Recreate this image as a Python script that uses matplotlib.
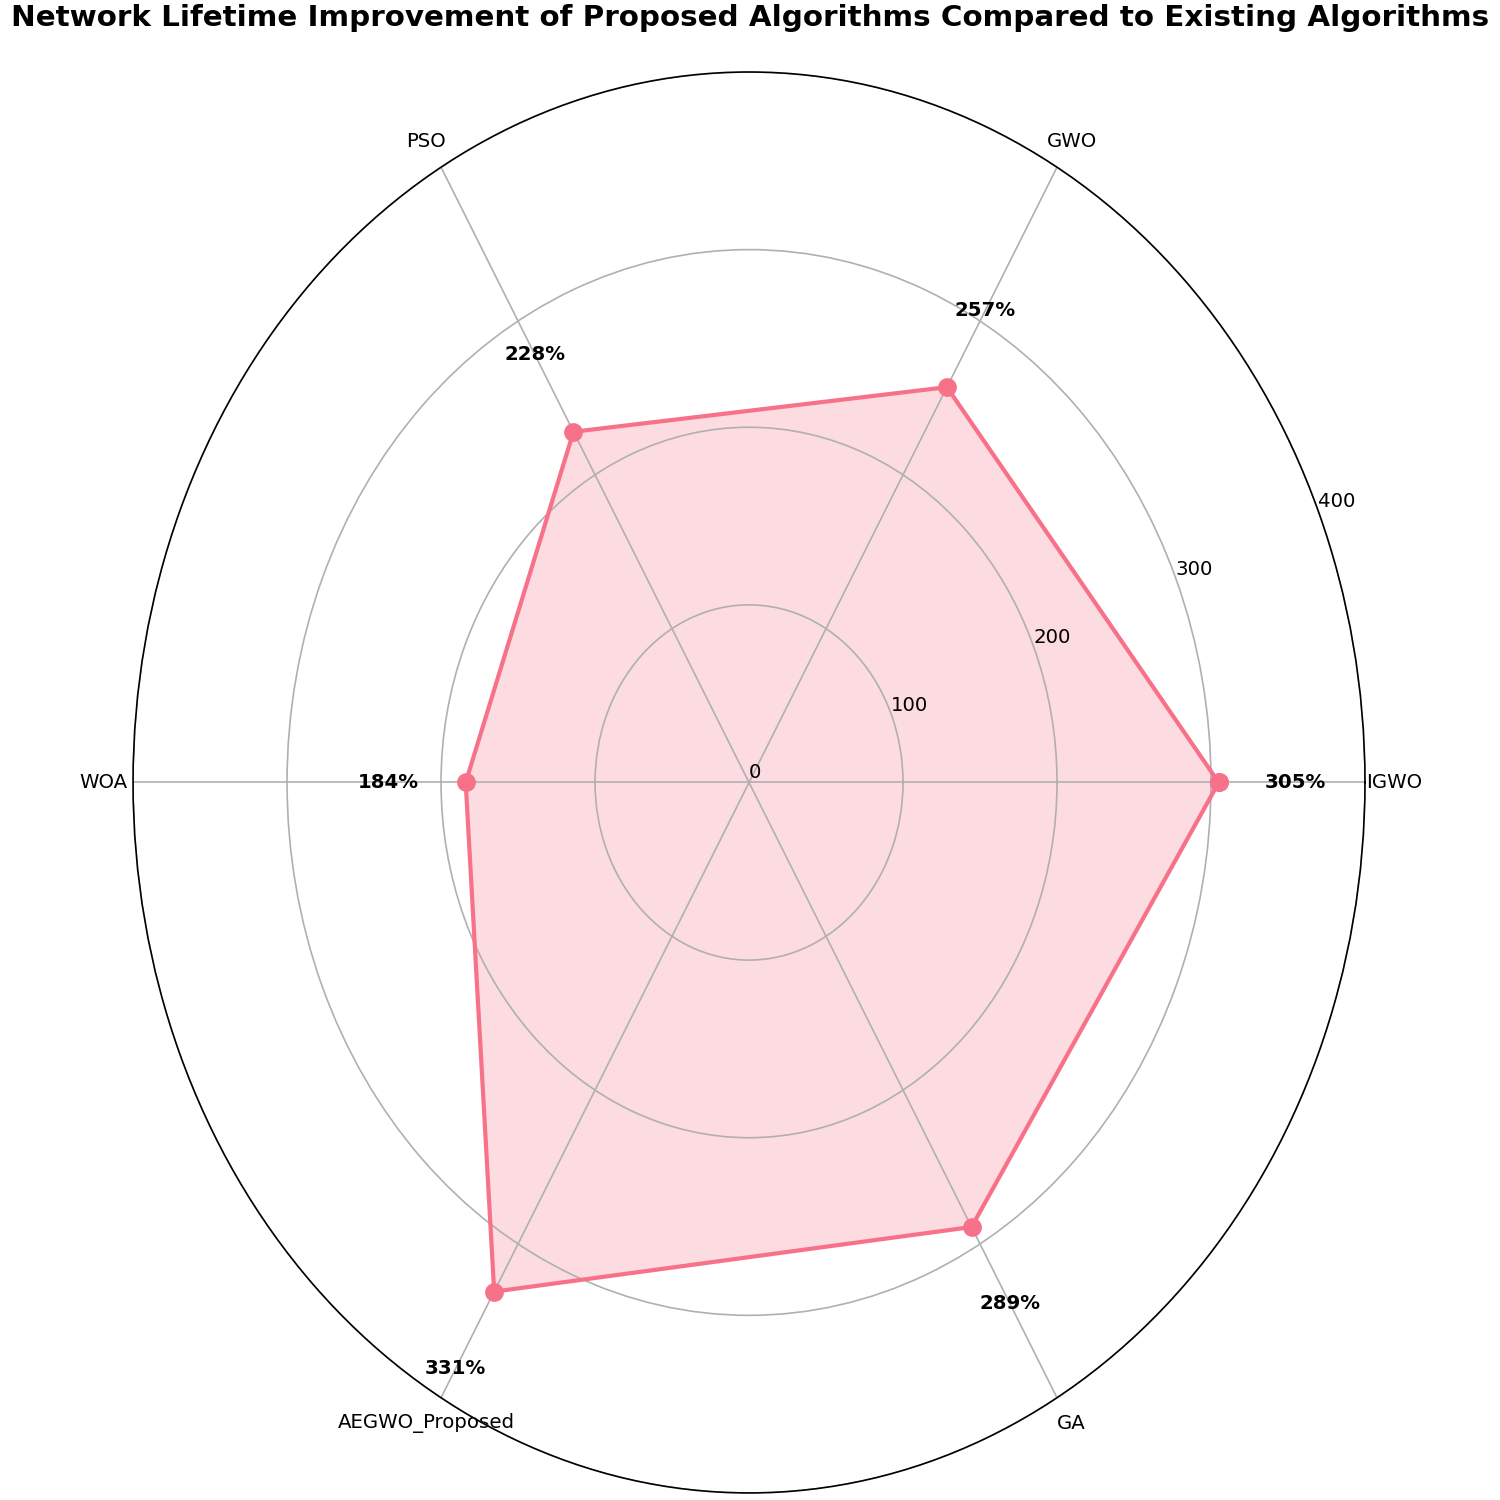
import numpy as np
import matplotlib.pyplot as plt

# Datos del radar
algorithms = ['IGWO', 'GWO', 'PSO', 'WOA', 'AEGWO_Proposed', 'GA']
improvement = [305, 257, 228, 184, 331, 289]
r_ticks = [0, 100, 200, 300, 400]

color = '#f77189'

n = len(algorithms)
angles = np.linspace(0, 2 * np.pi, n, endpoint=False).tolist()
vals = improvement + improvement[:1]
ang = angles + angles[:1]

fig = plt.figure(figsize=(10, 10), dpi=150)
ax = fig.add_axes([0.0887, 0.0047, 0.8213, 0.9473], projection='polar')
ax.set_aspect('auto')

ax.plot(ang, vals, color=color, linewidth=2, marker='o', markersize=8)
ax.fill(ang, vals, color=color, alpha=0.25)

ax.set_xticks(angles)
ax.set_xticklabels(algorithms, fontsize=9.5)
ax.set_ylim(0, 400)
ax.set_yticks(r_ticks)
ax.set_yticklabels([str(t) for t in r_ticks], fontsize=9.5)
ax.grid(True, color='#b0b0b0', linewidth=0.8)

for a, v in zip(angles, improvement):
    ax.text(a, v + 50, f'{v}%', ha='center', va='center',
            fontsize=9.5, fontweight='bold')

fig.suptitle('Network Lifetime Improvement of Proposed Algorithms Compared to Existing Algorithms',
             fontsize=14.1, fontweight='bold', y=0.997, va='top')

fig.savefig('out.png')
